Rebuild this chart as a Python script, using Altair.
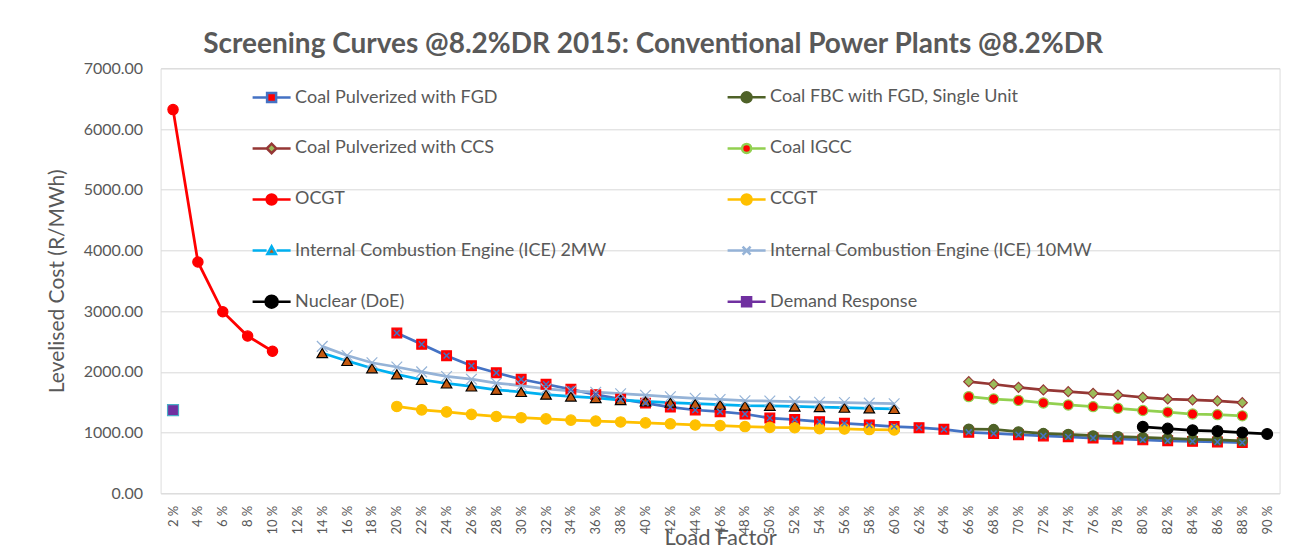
import altair as alt
import pandas as pd

load_factor = ["2 %", "4 %", "6 %", "8 %", "10 %", "12 %", "14 %", "16 %", "18 %", "20 %",
               "22 %", "24 %", "26 %", "28 %", "30 %", "32 %", "34 %", "36 %", "38 %", "40 %",
               "42 %", "44 %", "46 %", "48 %", "50 %", "52 %", "54 %", "56 %", "58 %", "60 %",
               "62 %", "64 %", "66 %", "68 %", "70 %", "72 %", "74 %", "76 %", "78 %", "80 %",
               "82 %", "84 %", "86 %", "88 %", "90 %"]

series_names = ["Coal Pulverized with FGD", "Coal FBC with FGD, Single Unit",
                "Coal Pulverized with CCS", "Coal IGCC", "OCGT", "CCGT",
                "Internal Combustion Engine (ICE) 2MW", "Internal Combustion Engine (ICE) 10MW",
                "Nuclear (DoE)", "Demand Response"]

fgd_start = "20 %"
fgd = [2640, 2455, 2267, 2100, 1985, 1878, 1796, 1713, 1625, 1550, 1485, 1420, 1372, 1344,
       1306, 1240, 1215, 1180, 1153, 1125, 1100, 1081, 1054, 1005, 985, 965, 945, 930, 910,
       895, 880, 865, 855, 845, 835]
fbc_start = "66 %"
fbc = [1059, 1054, 1015, 988, 972, 948, 935, 922, 906, 890, 878, 862]
ccs_start = "66 %"
ccs = [1839, 1796, 1746, 1702, 1674, 1647, 1619, 1581, 1553, 1537, 1521, 1493]
igcc_start = "66 %"
igcc = [1592, 1553, 1530, 1488, 1455, 1427, 1400, 1364, 1336, 1306, 1295, 1276]
ocgt_start = "2 %"
ocgt = [6320, 3810, 2990, 2590, 2340]
ccgt_start = "20 %"
ccgt = [1430, 1375, 1340, 1300, 1265, 1245, 1225, 1205, 1190, 1175, 1160, 1145, 1125, 1115,
        1100, 1085, 1080, 1065, 1060, 1050, 1045]
ice2_start = "14 %"
ice2 = [2310, 2180, 2060, 1960, 1870, 1810, 1760, 1705, 1670, 1625, 1595, 1570, 1535, 1515,
        1495, 1475, 1460, 1445, 1440, 1430, 1420, 1410, 1400, 1390]
ice10_start = "14 %"
ice10 = [2420, 2270, 2150, 2080, 2000, 1925, 1880, 1815, 1775, 1720, 1685, 1665, 1640, 1615,
         1590, 1565, 1545, 1525, 1520, 1510, 1500, 1495, 1485, 1475]
nuclear_start = "80 %"
nuclear = [1095, 1065, 1038, 1024, 1000, 977]
dr_start = "2 %"
dr = [1370]

line_colors = ["#4472C4", "#4F6228", "#953735", "#92D050", "#FF0000", "#FFC000",
               "#00B0F0", "#95B3D7", "#000000", "#7030A0"]
marker_fill = ["#FF0000", "#4F6228", "#9BBB59", "#FF0000", "#FF0000", "#FFC000",
               "#C55A11", "#95B3D7", "#000000", "#7030A0"]
marker_stroke = ["#FF0000", "#4F6228", "#953735", "#92D050", "#FF0000", "#FFC000",
                 "#000000", "#95B3D7", "#000000", "#4BACC6"]
xpath = "M-1,-1L1,1M-1,1L1,-1"
marker_shapes = ["square", "circle", "diamond", "circle", "circle", "circle",
                 "triangle-up", xpath, "circle", "square"]
marker_sizes = [95, 120, 80, 80, 100, 120, 70, 90, 220, 180]

seg = "M-3.8,0H-1M1,0H3.8"
legend_shapes = [
    seg + "M-0.9,-0.9H0.9V0.9H-0.9Z",
    seg + "M-1,0A1,1,0,1,0,1,0A1,1,0,1,0,-1,0Z",
    seg + "M-0.95,0L0,-0.95L0.95,0L0,0.95Z",
    seg + "M-0.9,0A0.9,0.9,0,1,0,0.9,0A0.9,0.9,0,1,0,-0.9,0Z",
    seg + "M-1,0A1,1,0,1,0,1,0A1,1,0,1,0,-1,0Z",
    seg + "M-1,0A1,1,0,1,0,1,0A1,1,0,1,0,-1,0Z",
    seg + "M-0.85,0.7L0,-0.85L0.85,0.7Z",
    "M-3.8,0H3.8M-0.8,-0.8L0.8,0.8M-0.8,0.8L0.8,-0.8",
    "M-3.8,0H-1.2M1.2,0H3.8M-1.2,0A1.2,1.2,0,1,0,1.2,0A1.2,1.2,0,1,0,-1.2,0Z",
    seg + "M-0.9,-0.9H0.9V0.9H-0.9Z",
]

groups = [
    (series_names[0], fgd_start, fgd),
    (series_names[1], fbc_start, fbc),
    (series_names[2], ccs_start, ccs),
    (series_names[3], igcc_start, igcc),
    (series_names[4], ocgt_start, ocgt),
    (series_names[5], ccgt_start, ccgt),
    (series_names[6], ice2_start, ice2),
    (series_names[7], ice10_start, ice10),
    (series_names[8], nuclear_start, nuclear),
    (series_names[9], dr_start, dr),
]
rows = []
for name, start, vals in groups:
    i0 = load_factor.index(start)
    for k, v in enumerate(vals):
        rows.append({"series": name, "lf": load_factor[i0 + k], "idx": i0 + k, "value": v})
df = pd.DataFrame(rows)

FONT = "Lato"
GREY = "#595959"

x_enc = alt.X("lf:N", scale=alt.Scale(domain=load_factor),
              axis=alt.Axis(labelAngle=270, labelFont=FONT, labelFontSize=13, labelColor=GREY,
                            labelPadding=12, ticks=False, domain=False, grid=False,
                            title="Load Factor", titleFont=FONT, titleFontSize=22,
                            titleFontWeight="normal", titleColor=GREY, titleY=51,
                            titleBaseline="alphabetic"))
y_enc = alt.Y("value:Q", scale=alt.Scale(domain=[0, 7000], nice=False),
              axis=alt.Axis(values=[0, 1000, 2000, 3000, 4000, 5000, 6000, 7000], format=".2f",
                            grid=True, gridColor="#D9D9D9", gridWidth=1, domain=False, ticks=False,
                            labelFont=FONT, labelFontSize=16, labelColor=GREY, labelPadding=18,
                            title="Levelised Cost (R/MWh)", titleFont=FONT, titleFontSize=21,
                            titleFontWeight="normal", titleColor=GREY, titleAngle=270,
                            titleX=-103, titleY=212.5, titleAlign="center",
                            titleBaseline="middle"))

base = alt.Chart(df)

lines = base.mark_line(strokeWidth=2.75).encode(
    x=x_enc, y=y_enc,
    color=alt.Color("series:N", scale=alt.Scale(domain=series_names, range=line_colors), legend=None),
    order=alt.Order("idx:Q"),
)

points = base.mark_point(filled=True, opacity=1, strokeWidth=1.2).encode(
    x=x_enc, y=y_enc,
    shape=alt.Shape("series:N", scale=alt.Scale(domain=series_names, range=marker_shapes), legend=None),
    fill=alt.Fill("series:N", scale=alt.Scale(domain=series_names, range=marker_fill), legend=None),
    stroke=alt.Stroke("series:N", scale=alt.Scale(domain=series_names, range=marker_stroke), legend=None),
    size=alt.Size("series:N", scale=alt.Scale(domain=series_names, range=marker_sizes), legend=None),
)

fgd_x = base.transform_filter(alt.datum.series == series_names[0]).mark_point(
    shape="M-0.6,-0.6L0.6,0.6M-0.6,0.6L0.6,-0.6", filled=False, opacity=1,
    stroke="#4472C4", strokeWidth=1.5, size=95).encode(x=x_enc, y=y_enc)

leg = alt.Legend(title=None, orient="none", legendX=102, legendY=20, direction="horizontal",
                 columns=2, columnPadding=116, rowPadding=31.1,
                 symbolSize=100, symbolStrokeWidth=2.5, symbolOpacity=1,
                 labelFont=FONT, labelFontSize=18, labelColor=GREY,
                 labelOffset=14.5, labelLimit=600, padding=0)

legend_layer = base.transform_filter("false").mark_point(filled=True, opacity=1).encode(
    x=x_enc, y=y_enc,
    shape=alt.Shape("series:N", scale=alt.Scale(domain=series_names, range=legend_shapes), legend=leg),
    fill=alt.Fill("series:N", scale=alt.Scale(domain=series_names, range=marker_fill), legend=leg),
    stroke=alt.Stroke("series:N", scale=alt.Scale(domain=series_names, range=line_colors), legend=leg),
)

chart = alt.layer(lines, points, fgd_x, legend_layer).resolve_scale(
    shape="independent", fill="independent", stroke="independent"
).properties(
    width=1119, height=425,
    autosize=alt.AutoSizeParams(type="none"),
    padding={"left": 152.6, "top": 60.3, "right": 12, "bottom": 59},
    title=alt.TitleParams(text="Screening Curves @8.2%DR 2015: Conventional Power Plants @8.2%DR",
                          font=FONT, fontSize=28, fontWeight="bold", color=GREY,
                          anchor="middle", frame="group", dx=-67, dy=37, offset=16,
                          baseline="alphabetic"),
).configure_view(stroke=None).configure(background="white")

chart.save("out.html", embed_options={"renderer": "svg", "actions": False})
